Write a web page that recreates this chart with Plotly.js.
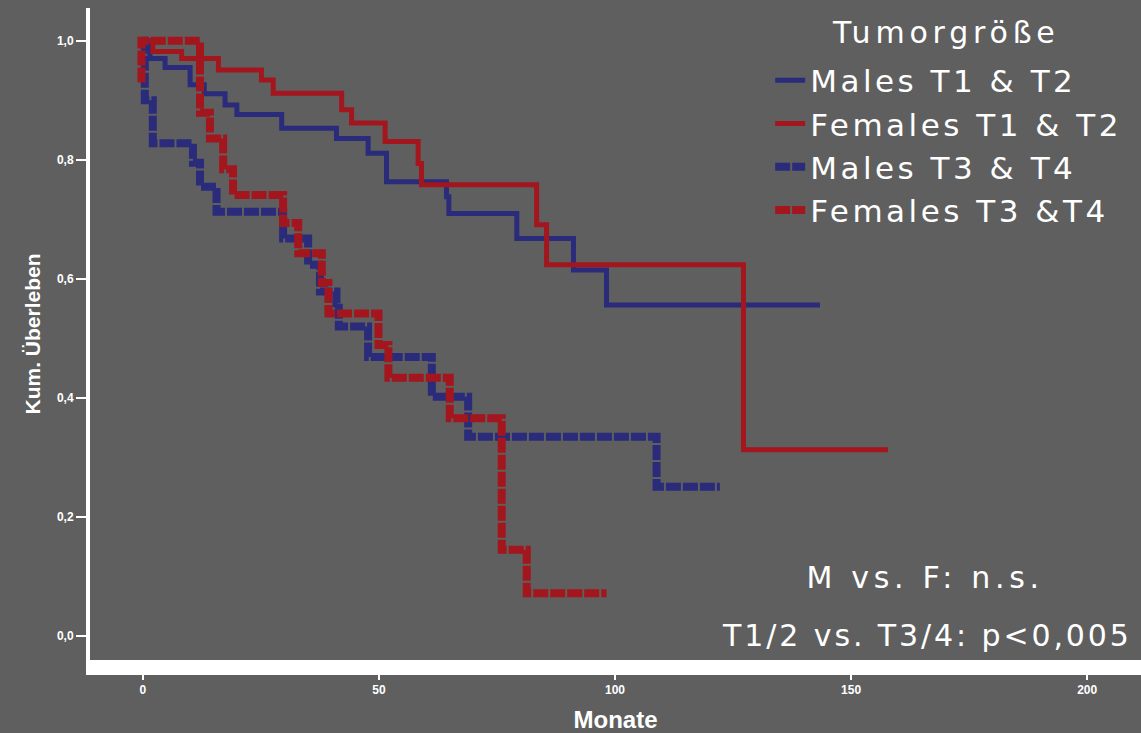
<!DOCTYPE html>
<html>
<head>
<meta charset="utf-8">
<script src="https://cdn.plot.ly/plotly-3.0.1.min.js"></script>
<style>
  html, body { margin: 0; padding: 0; background: #5f5f5f; }
  #chart { width: 1141px; height: 733px; }
  .legendtext { letter-spacing: 3.5px; }
  .annotation[data-index="0"] text { letter-spacing: 4.8px; }
  .annotation[data-index="1"] text { letter-spacing: 4.7px; }
  .annotation[data-index="2"] text { letter-spacing: 2.9px; }
</style>
</head>
<body>
<div id="chart"></div>
<script>
// Kaplan-Meier step data (months, cumulative survival)
const seriesNames = ["Males T1 & T2", "Females T1 & T2", "Males T3 & T4", "Females T3 &T4"];

const monthsMalesT12 = [0, 1.5, 4.7, 10.0, 13.0, 17.4, 19.9, 29.4, 41.0, 47.7, 51.6, 64.3, 64.8, 79.2, 91.2, 98.2, 143.4];
const survMalesT12   = [1.0, 0.970, 0.955, 0.926, 0.911, 0.892, 0.876, 0.853, 0.836, 0.811, 0.763, 0.738, 0.710, 0.668, 0.615, 0.556, 0.556];

const monthsFemalesT12 = [0, 2.1, 8.2, 16.0, 25.1, 27.6, 42.1, 44.2, 51.3, 58.3, 59.0, 83.4, 85.5, 127.2, 157.8];
const survFemalesT12   = [1.0, 0.982, 0.970, 0.951, 0.934, 0.912, 0.884, 0.862, 0.831, 0.794, 0.758, 0.691, 0.624, 0.313, 0.313];

const monthsMalesT34 = [0, 0.4, 2.1, 10.6, 12.1, 15.6, 29.7, 35.0, 37.5, 41.0, 41.5, 47.7, 61.2, 68.9, 108.8, 122.2];
const survMalesT34   = [1.0, 0.900, 0.828, 0.795, 0.755, 0.713, 0.668, 0.624, 0.579, 0.559, 0.520, 0.469, 0.402, 0.335, 0.251, 0.251];

const monthsFemalesT34 = [-0.3, -0.3, 12.1, 14.2, 17.0, 19.1, 29.7, 32.9, 37.9, 39.3, 49.9, 52.0, 65.0, 76.0, 81.3, 98.2];
const survFemalesT34   = [0.930, 1.0, 0.879, 0.836, 0.784, 0.741, 0.694, 0.643, 0.593, 0.542, 0.489, 0.434, 0.366, 0.145, 0.072, 0.072];

const xTickVals = [0, 50, 100, 150, 200];
const xTickText = ["0", "50", "100", "150", "200"];
const yTickVals = [0, 0.2, 0.4, 0.6, 0.8, 1.0];
const yTickText = ["0,0", "0,2", "0,4", "0,6", "0,8", "1,0"];

const legendTitle = "Tumorgröße";
const xTitle = "Monate";
const yTitle = "Kum. Überleben";
const note1 = "M vs. F: n.s.";
const note2 = "T1/2 vs. T3/4: p<0,005";

const BLUE = "#2b2b7b";
const RED = "#a3161e";
const BG = "#5f5f5f";

const traces = [
  { x: monthsMalesT12, y: survMalesT12, name: seriesNames[0], color: BLUE, width: 5, dash: "solid" },
  { x: monthsFemalesT12, y: survFemalesT12, name: seriesNames[1], color: RED, width: 5, dash: "solid" },
  { x: monthsMalesT34, y: survMalesT34, name: seriesNames[2], color: BLUE, width: 8, dash: "15px,2px" },
  { x: monthsFemalesT34, y: survFemalesT34, name: seriesNames[3], color: RED, width: 8, dash: "15px,2px" }
].map(t => ({
  type: "scatter",
  mode: "lines",
  x: t.x,
  y: t.y,
  name: t.name,
  line: { shape: "hv", color: t.color, width: t.width, dash: t.dash },
  hoverinfo: "skip"
}));

const layout = {
  width: 1141,
  height: 733,
  paper_bgcolor: BG,
  plot_bgcolor: BG,
  margin: { l: 90, r: 0, t: 8, b: 73, autoexpand: false },
  font: { family: "Liberation Sans, Arial, sans-serif", color: "#ffffff" },
  showlegend: true,
  legend: {
    xref: "container", yref: "container",
    x: 0.675, y: 0.927, xanchor: "left", yanchor: "top",
    bgcolor: "rgba(0,0,0,0)",
    borderwidth: 0,
    font: { family: "DejaVu Sans, sans-serif", size: 31, color: "#ffffff" },
    tracegroupgap: 0
  },
  xaxis: {
    range: [-11.2, 211.4],
    showgrid: false, zeroline: false,
    showline: true, linecolor: "#ffffff", linewidth: 15,
    ticks: "outside", ticklen: 5, tickwidth: 2, tickcolor: "#ffffff",
    tickvals: xTickVals, ticktext: xTickText,
    tickfont: { family: "Liberation Sans, Arial, sans-serif", size: 12, color: "#ffffff", weight: "bold" },
    title: { text: xTitle, standoff: 21, font: { family: "Liberation Sans, Arial, sans-serif", size: 24, color: "#ffffff", weight: "bold" } }
  },
  yaxis: {
    range: [-0.040, 1.055],
    showgrid: false, zeroline: false,
    showline: true, linecolor: "#ffffff", linewidth: 4,
    ticks: "outside", ticklen: 10, tickwidth: 2, tickcolor: "#ffffff",
    tickvals: yTickVals, ticktext: yTickText,
    tickfont: { family: "Liberation Sans, Arial, sans-serif", size: 12, color: "#ffffff", weight: "bold" },
    title: { text: yTitle, standoff: 12, font: { family: "Liberation Sans, Arial, sans-serif", size: 21, color: "#ffffff", weight: "bold" } }
  },
  annotations: [
    { xref: "paper", yref: "paper", x: 0.814, y: 0.963, xanchor: "center", yanchor: "middle", showarrow: false,
      text: legendTitle, font: { family: "DejaVu Sans, sans-serif", size: 30, color: "#ffffff" } },
    { xref: "paper", yref: "paper", x: 0.7945, y: 0.127, xanchor: "center", yanchor: "middle", showarrow: false,
      text: note1, font: { family: "DejaVu Sans, sans-serif", size: 30, color: "#ffffff" } },
    { xref: "paper", yref: "paper", x: 0.630, y: 0.037, xanchor: "left", yanchor: "middle", showarrow: false,
      text: note2, font: { family: "DejaVu Sans, sans-serif", size: 30, color: "#ffffff" } }
  ]
};

Plotly.newPlot("chart", traces, layout, { displayModeBar: false, staticPlot: true });
</script>
</body>
</html>
